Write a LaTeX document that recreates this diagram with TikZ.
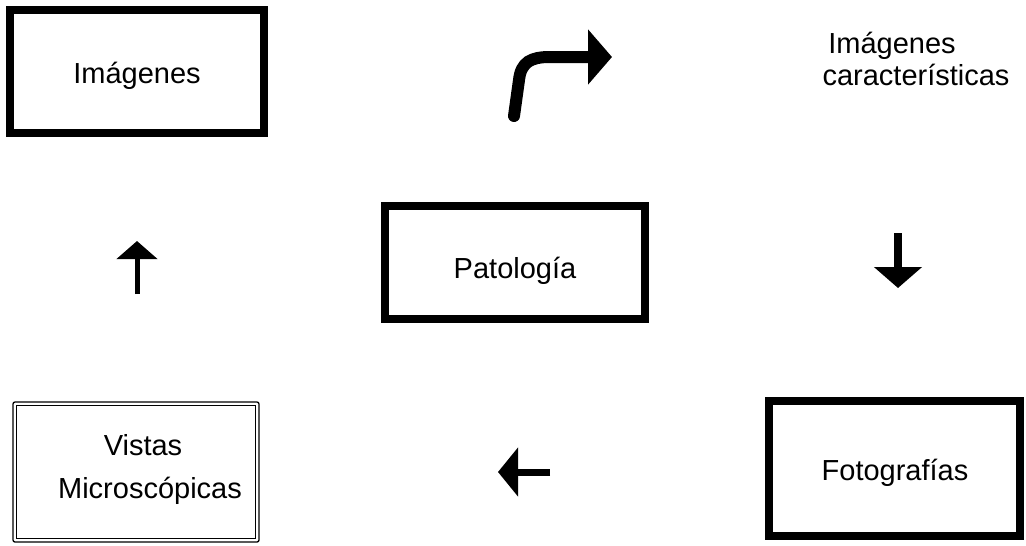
\documentclass[tikz,border=0pt]{standalone}
\usepackage{fontspec}
\setmainfont{Liberation Sans}
\usetikzlibrary{arrows.meta}
\begin{document}
\begin{tikzpicture}[x=1pt,y=-1pt,
  lbl/.style={anchor=base,inner sep=0pt,font=\fontsize{29}{34}\selectfont},
  heavybox/.style={draw=black,line width=8.5pt},
  thinbox/.style={draw=black,line width=1.3pt},
  shaft/.style={draw=black,line width=#1,line cap=butt},
]
\useasboundingbox (0,0) rectangle (1026,546);

% framed boxes
\draw[heavybox] (10,10) rectangle (264,133);
\draw[heavybox] (385,206) rectangle (645,319);
\draw[heavybox] (769,401) rectangle (1020,536);
\draw[thinbox,rounded corners=2pt] (13,402) rectangle (259,542);
\draw[thinbox] (16.5,405.5) rectangle (255.5,538.5);

% labels
\node[lbl] (img) at (137,83) {Imágenes};
\node[lbl] (pat) at (515,278) {Patología};
\node[lbl] (vis) at (143,455) {Vistas};
\node[lbl] (mic) at (150,498) {Microscópicas};
\node[lbl] (fot) at (895,480) {Fotografías};
\node[lbl] (car1) at (892,53) {Imágenes};
\node[lbl] (car2) at (916,85) {características};

% arrow end points
\coordinate (c0) at (514,116);
\coordinate (c1) at (612,57);
\coordinate (u0) at (137,294);
\coordinate (u1) at (137,241);
\coordinate (d0) at (898,233);
\coordinate (d1) at (898,288);
\coordinate (l0) at (550,472);
\coordinate (l1) at (498,472);

% bent arrow
\draw[line width=12pt,line cap=round,-{Triangle[width=54pt,length=24pt]}]
  (c0) -- (519,80) .. controls (521,62) and (531,57) .. (550,57) -- (c1);
% straight arrows
\draw[shaft=5pt,-{Triangle[width=40pt,length=18pt]}] (u0) -- (u1);
\draw[shaft=8pt,-{Triangle[width=47pt,length=21pt]}] (d0) -- (d1);
\draw[shaft=7pt,-{Triangle[width=48pt,length=20pt]}] (l0) -- (l1);
\end{tikzpicture}
\end{document}
